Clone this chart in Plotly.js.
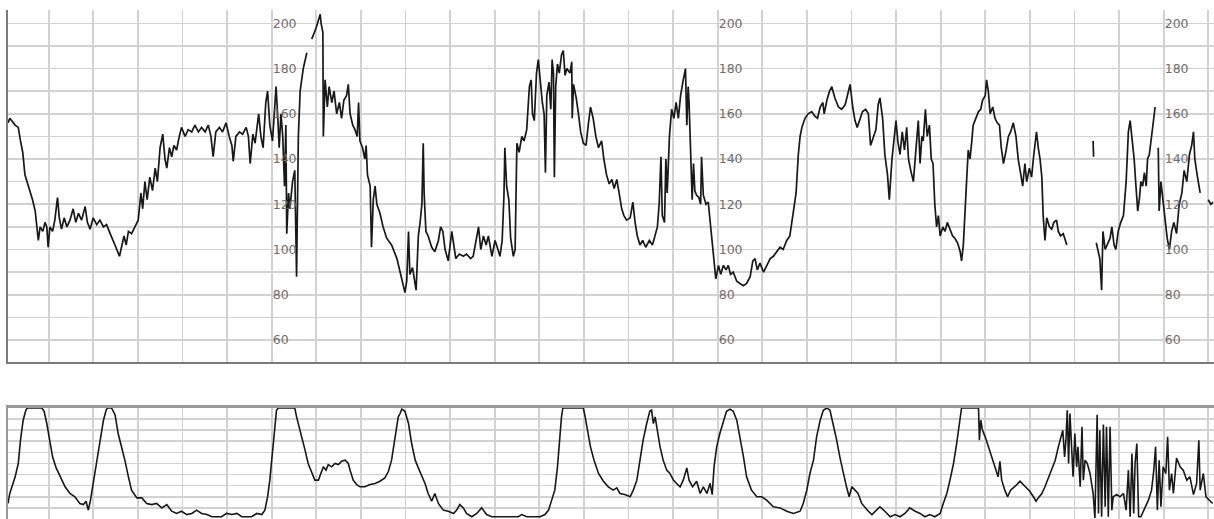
<!DOCTYPE html>
<html>
<head>
<meta charset="utf-8">
<script src="https://cdn.plot.ly/plotly-3.0.1.min.js"></script>
<style>html,body{margin:0;padding:0;background:#fff;}#chart{width:1214px;height:519px;}</style>
</head>
<body>
<div id="chart"></div>
<script>
// Fetal heart rate (bpm) over time (minutes); null = signal loss
const fhrTime = [0.00,0.04,0.16,0.23,0.28,0.33,0.38,0.43,0.49,0.55,0.61,0.64,0.68,0.72,0.78,0.83,0.87,0.90,0.94,1.00,1.05,1.11,1.15,1.20,1.26,1.32,1.39,1.46,1.52,1.58,1.65,1.73,1.78,1.84,1.91,1.99,2.06,2.14,2.21,2.29,2.36,2.44,2.50,2.55,2.60,2.65,2.70,2.77,2.85,2.92,2.98,3.02,3.07,3.12,3.18,3.24,3.30,3.35,3.41,3.47,3.52,3.56,3.62,3.67,3.72,3.78,3.84,3.89,3.97,4.04,4.12,4.19,4.27,4.34,4.42,4.49,4.55,4.60,4.66,4.74,4.81,4.89,4.96,5.02,5.05,5.11,5.19,5.26,5.34,5.39,5.43,5.49,5.54,5.58,5.62,5.67,5.72,5.78,5.82,5.87,5.93,5.97,6.01,6.05,6.08,6.12,6.16,6.20,6.23,6.25,6.29,6.32,6.38,6.43,6.47,6.51,6.55,6.62,6.70,6.74,6.81,6.91,7.00,7.02,7.06,7.07,7.11,7.16,7.20,7.26,7.31,7.37,7.43,7.48,7.53,7.59,7.63,7.67,7.73,7.78,7.83,7.86,7.89,7.95,8.00,8.03,8.06,8.12,8.15,8.19,8.23,8.27,8.34,8.41,8.49,8.60,8.72,8.79,
8.83,8.90,8.94,8.98,9.01,9.07,9.15,9.20,9.24,9.28,9.31,9.33,9.37,9.42,9.50,9.57,9.65,9.70,9.75,9.80,9.87,9.95,9.98,10.04,10.12,10.21,10.28,10.37,10.43,10.49,10.55,10.60,10.66,10.72,10.77,10.85,10.92,10.97,11.03,11.08,11.12,11.14,11.18,11.23,11.27,11.33,11.37,11.41,11.46,11.52,11.57,11.63,11.69,11.73,11.76,11.80,11.85,11.89,11.93,11.98,12.02,12.05,12.08,12.13,12.17,12.20,12.23,12.25,12.28,12.32,12.36,12.41,12.45,12.49,12.53,12.60,12.64,12.65,12.68,12.74,12.79,12.84,12.90,12.96,13.01,13.06,13.12,13.18,13.24,13.31,13.36,13.42,13.48,13.54,13.59,13.65,13.71,13.76,13.81,13.87,13.95,14.01,14.06,14.11,14.17,14.23,14.30,14.38,14.45,14.51,14.56,14.60,14.64,14.67,14.72,14.75,14.78,14.83,14.88,14.93,14.98,15.03,15.08,15.14,15.19,15.22,15.25,15.27,15.31,15.34,15.37,15.40,15.44,15.49,15.53,15.55,15.59,15.65,15.70,15.76,15.81,15.87,15.93,15.98,16.04,16.10,16.15,16.20,16.26,16.34,16.41,16.49,16.56,16.64,16.70,16.75,16.80,16.86,16.94,17.01,17.09,17.16,17.23,17.31,17.38,17.46,17.53,17.61,17.67,17.72,17.76,
17.80,17.87,17.94,18.02,18.09,18.15,18.21,18.27,18.30,18.36,18.42,18.47,18.54,18.62,18.69,18.77,18.82,18.88,18.94,18.99,19.04,19.10,19.16,19.23,19.29,19.34,19.40,19.46,19.51,19.55,19.61,19.66,19.72,19.76,19.82,19.87,19.91,19.95,20.00,20.05,20.10,20.15,20.19,20.24,20.30,20.36,20.41,20.45,20.49,20.52,20.57,20.61,20.66,20.70,20.74,20.78,20.82,20.86,20.90,20.96,21.01,21.06,21.12,21.18,21.23,21.29,21.35,21.38,21.42,21.46,21.50,21.53,21.57,21.61,21.64,21.70,21.76,21.81,21.85,21.91,21.94,21.98,22.02,22.08,22.13,22.18,22.23,22.27,22.32,22.38,22.43,22.48,22.54,22.60,22.65,22.71,22.75,22.80,22.84,22.90,22.95,23.00,23.06,23.10,23.14,23.18,23.21,23.25,23.29,23.35,23.40,23.45,23.51,23.55,23.60,23.66,23.70,23.74,23.80,24.33,24.34,24.36,24.40,24.44,24.48,24.52,24.55,24.60,24.65,24.71,24.75,24.80,24.84,24.89,24.95,25.01,25.07,25.12,25.16,25.20,25.25,25.29,25.33,25.37,25.40,25.44,25.48,25.52,25.55,25.59,25.64,25.68,25.72,25.75,25.79,25.81,25.85,25.89,25.94,25.99,26.04,26.09,26.14,26.20,26.26,26.32,26.37,26.43,26.49,26.54,26.58,26.61,26.67,26.73,26.78,26.91,26.97,27.02];
const fhrBpm = [156,158,155,154,148,143,133,130,126,122,117,112,104,110,108,112,110,101,110,108,113,123,114,109,114,110,113,118,112,116,113,119,112,109,114,111,113,110,111,107,104,100,97,101,106,102,108,107,110,113,125,118,130,122,132,126,136,130,145,151,140,136,145,141,146,144,150,154,150,153,152,155,152,154,152,155,150,141,152,154,152,156,150,146,139,150,152,151,154,150,138,151,147,153,160,150,145,165,170,155,148,160,172,158,145,160,150,128,155,107,125,118,130,135,88,150,170,180,187,null,193,198,204,200,196,150,175,163,172,165,170,160,165,158,166,168,173,160,155,153,150,165,148,145,140,146,133,128,101,122,128,120,116,110,105,102,96,90,
88,81,86,108,89,92,82,106,112,120,147,125,108,106,101,99,104,110,108,100,95,108,104,96,98,97,98,96,97,103,110,100,106,102,106,97,104,101,97,104,124,145,128,122,105,97,100,147,143,150,148,153,172,175,160,157,178,184,175,165,160,134,168,174,162,184,178,132,172,182,178,186,188,177,180,178,183,158,173,167,160,152,147,146,155,163,158,150,145,148,140,133,129,131,127,131,124,118,115,113,114,121,112,106,102,104,101,104,102,106,110,120,141,115,112,140,125,150,162,158,165,158,168,175,180,155,172,165,140,122,138,126,124,123,120,141,124,120,121,108,97,87,93,89,93,91,93,89,90,86,85,84,85,88,95,96,91,94,90,93,96,97,99,101,100,104,106,116,125,142,150,
154,158,160,161,159,158,163,165,160,166,170,172,167,163,162,164,168,173,163,157,154,158,161,162,160,146,150,153,164,167,158,142,133,122,140,150,157,148,142,152,144,154,140,135,130,145,157,138,150,148,162,150,155,140,138,120,110,115,106,110,108,112,109,106,105,103,99,95,102,115,133,144,140,148,155,158,161,162,166,168,175,170,160,163,158,156,155,145,138,144,150,152,156,150,140,133,128,138,130,136,132,142,152,145,140,132,115,104,114,110,109,112,113,108,106,107,104,102,null,148,141,null,103,100,96,82,108,100,102,105,110,102,100,108,112,115,130,152,157,150,140,128,117,123,130,128,134,128,140,142,150,156,163,null,145,117,130,122,112,105,100,108,112,107,120,125,135,130,142,146,152,140,132,125,null,122,120,121];

// Uterine activity (toco units) over time (minutes)
const tocoTime = [0.00,0.04,0.16,0.23,0.28,0.34,0.40,0.43,0.76,0.81,0.87,0.94,1.00,1.08,1.17,1.28,1.39,1.50,1.61,1.69,1.75,1.80,1.85,1.91,1.99,2.06,2.14,2.20,2.23,2.32,2.40,2.47,2.55,2.62,2.70,2.77,2.89,3.00,3.11,3.22,3.33,3.45,3.56,3.67,3.78,3.89,4.01,4.12,4.23,4.34,4.46,4.57,4.68,4.79,4.90,5.02,5.13,5.24,5.35,5.46,5.58,5.69,5.76,5.82,5.87,5.91,5.95,5.99,6.02,6.06,6.43,6.47,6.51,6.58,6.66,6.73,6.81,6.88,6.96,7.01,7.07,7.13,7.18,7.26,7.33,7.41,7.48,7.56,7.63,7.67,7.74,7.82,7.89,8.00,8.12,8.23,8.34,8.45,8.53,8.60,8.68,8.75,8.79,
8.83,8.90,8.98,9.05,9.13,9.20,9.28,9.35,9.42,9.50,9.57,9.65,9.76,9.87,9.99,10.06,10.13,10.21,10.28,10.40,10.51,10.62,10.73,10.85,10.99,11.14,11.29,11.44,11.52,11.63,11.78,11.93,12.04,12.12,12.19,12.26,12.32,12.36,12.41,12.44,12.90,12.94,12.99,13.06,13.14,13.24,13.35,13.46,13.57,13.65,13.72,13.83,13.95,14.02,14.10,14.17,14.24,14.32,14.39,14.43,14.47,14.51,14.56,14.62,14.69,14.77,14.84,14.92,14.99,15.07,15.14,15.22,15.27,15.35,15.44,15.52,15.59,15.67,15.74,15.79,15.83,15.89,15.96,16.04,16.11,16.19,16.26,16.34,16.41,16.49,16.56,16.67,16.79,16.90,17.01,17.16,17.31,17.46,17.61,17.76,
17.83,17.91,17.98,18.06,18.13,18.21,18.28,18.36,18.43,18.50,18.58,18.65,18.73,18.80,18.86,18.92,18.99,19.06,19.14,19.22,19.29,19.37,19.44,19.55,19.66,19.78,19.89,20.00,20.11,20.22,20.34,20.45,20.56,20.67,20.78,20.90,20.97,21.05,21.12,21.20,21.27,21.33,21.38,21.76,21.78,21.81,21.85,21.91,21.98,22.06,22.13,22.20,22.24,22.28,22.35,22.41,22.48,22.54,22.62,22.69,22.76,22.84,22.91,22.99,23.05,23.10,23.18,23.25,23.33,23.40,23.48,23.55,23.60,23.65,23.69,23.72,23.75,23.78,23.81,23.85,23.88,23.92,23.96,23.99,24.04,24.08,24.11,24.15,24.20,24.26,24.33,24.37,24.42,24.45,24.48,24.52,24.56,24.60,24.63,24.67,24.71,24.75,24.78,24.86,24.93,25.01,25.07,25.12,25.16,25.20,25.24,25.27,25.31,25.35,25.40,25.49,25.57,25.64,25.69,25.73,25.77,25.81,25.85,25.90,25.96,26.00,26.04,26.09,26.13,26.20,26.28,26.35,26.43,26.50,26.58,26.65,26.70,26.73,26.80,26.86,26.95,27.01];
const tocoVal = [14,23,38,50,71,89,98,100,100,97,86,68,56,46,38,29,23,20,14,13,16,8,17,32,50,71,89,98,100,100,94,77,65,53,38,26,19,19,14,13,14,10,13,7,5,7,4,5,8,5,4,2,2,2,5,4,5,2,2,2,5,4,8,20,35,53,71,86,98,100,100,92,86,74,62,50,41,35,35,41,47,44,49,47,50,49,52,53,50,44,35,31,29,29,31,32,34,37,43,53,74,92,95,
99,97,86,68,53,46,38,32,23,16,23,14,8,7,5,8,13,10,5,2,5,10,4,2,2,2,2,2,4,2,2,2,4,8,17,26,47,71,92,100,100,92,80,65,53,41,34,29,26,28,23,22,20,26,35,53,71,86,97,98,86,92,80,65,53,44,41,35,32,29,35,46,35,29,34,23,29,23,32,22,47,65,77,89,97,99,97,89,74,56,38,26,20,20,17,11,10,7,5,7,
14,26,41,53,74,89,98,100,98,86,71,56,41,29,20,29,26,23,14,10,7,4,7,11,7,2,4,2,5,10,7,5,2,4,2,5,14,23,35,50,68,86,100,100,71,89,80,74,65,56,47,38,52,35,26,20,26,28,31,34,31,28,25,20,16,19,23,29,38,46,53,65,74,80,56,71,98,50,95,65,38,77,47,65,29,83,35,53,50,41,23,1,94,5,80,2,85,11,83,2,83,8,20,22,20,23,8,44,2,59,5,50,68,2,2,10,17,26,44,65,8,53,11,47,41,74,26,41,23,55,47,44,35,38,22,32,71,26,41,20,16,14];

// Axis settings (time in minutes, bpm, toco units)
const timeRange = [0, 27.04];
const gridStart = 0.9126;          // first minute grid line
const bpmRange = [50.27, 205.88];
const bpmLabels = [60, 80, 100, 120, 140, 160, 180, 200];
const labelColumnTimes = [5.9126, 15.9126, 25.9126];
const tocoRange = [0, 100];

const gridColor = '#d2d2d2';
const traceColor = '#181818';

const traces = [
  {x: fhrTime, y: fhrBpm, xaxis: 'x', yaxis: 'y', type: 'scatter', mode: 'lines',
   connectgaps: false, line: {color: traceColor, width: 1.7}, hoverinfo: 'skip'},
  {x: tocoTime, y: tocoVal, xaxis: 'x2', yaxis: 'y2', type: 'scatter', mode: 'lines',
   line: {color: traceColor, width: 1.6}, hoverinfo: 'skip'}
];

const layout = {
  width: 1214, height: 519,
  margin: {l: 8, r: 0, t: 0, b: 0, pad: 0},
  paper_bgcolor: '#ffffff', plot_bgcolor: '#ffffff',
  showlegend: false,
  font: {family: 'DejaVu Sans, sans-serif', size: 12.5, color: '#666'},
  xaxis: {domain: [0, 1], range: timeRange, anchor: 'y', tick0: gridStart, dtick: 1,
          showgrid: true, gridcolor: gridColor, gridwidth: 1.8, zeroline: false,
          showticklabels: false, ticks: '', showline: true, linecolor: '#7a7a7a', linewidth: 2.2},
  yaxis: {domain: [0.3025, 0.9807], range: bpmRange, anchor: 'x', tick0: 0, dtick: 10,
          showgrid: true, gridcolor: gridColor, gridwidth: 1.6, zeroline: false,
          showticklabels: false, ticks: '', showline: true, linecolor: '#7a7a7a', linewidth: 2},
  xaxis2: {domain: [0, 1], range: timeRange, anchor: 'y2', matches: 'x', side: 'top',
           tick0: gridStart, dtick: 1, showgrid: true, gridcolor: gridColor, gridwidth: 1.8,
           zeroline: false, showticklabels: false, ticks: '', showline: true,
           linecolor: '#9a9a9a', linewidth: 3},
  yaxis2: {domain: [0, 0.2139], range: tocoRange, anchor: 'x2', tick0: 0, dtick: 10,
           showgrid: true, gridcolor: gridColor, gridwidth: 1.6, zeroline: false,
           showticklabels: false, ticks: '', showline: true, linecolor: '#9a9a9a', linewidth: 2}
};

labelColumnTimes.forEach((t, i) => {
  const name = 'yaxis' + (i + 3);
  layout[name] = {
    overlaying: 'y', anchor: 'free', side: 'right',
    position: (t - timeRange[0]) / (timeRange[1] - timeRange[0]),
    range: bpmRange, tickmode: 'array', tickvals: bpmLabels,
    ticktext: bpmLabels.map(String),
    showgrid: false, zeroline: false, showline: false, ticks: '',
    tickfont: {family: 'DejaVu Sans, sans-serif', size: 12.5, color: '#6e6e6e'}
  };
  traces.push({x: [null], y: [null], xaxis: 'x', yaxis: 'y' + (i + 3), type: 'scatter',
               mode: 'lines', hoverinfo: 'skip', showlegend: false});
});

Plotly.newPlot('chart', traces, layout, {staticPlot: true, displayModeBar: false});
</script>
</body>
</html>
